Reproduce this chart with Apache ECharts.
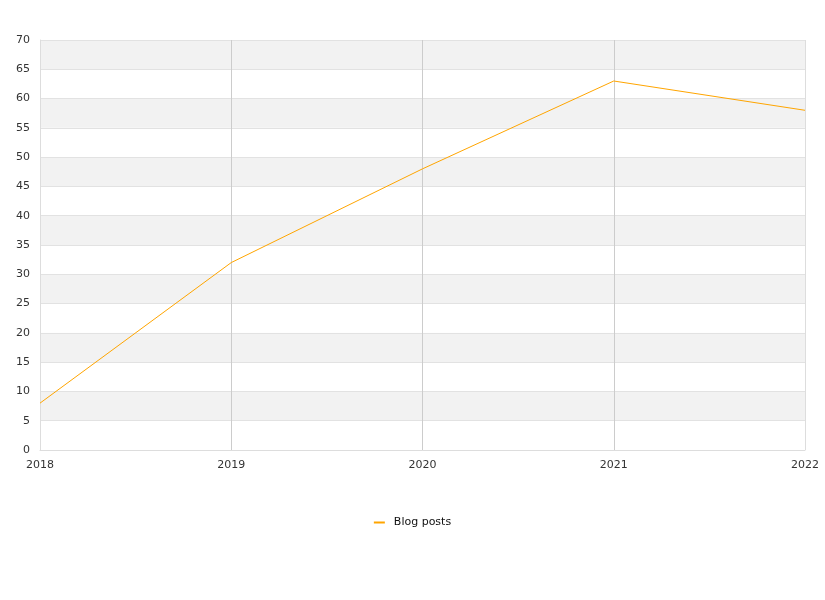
<!DOCTYPE html>
<html>
<head>
<meta charset="utf-8">
<script src="https://cdn.jsdelivr.net/npm/echarts@6/dist/echarts.min.js"></script>
<style>
  html, body { margin: 0; padding: 0; background: #fff; }
  #chart { width: 825px; height: 600px; }
</style>
</head>
<body>
<div id="chart"></div>
<script>
// Yearly blog post counts
const years = ['2018', '2019', '2020', '2021', '2022'];
const blogPosts = [8, 32, 48, 63, 58];
const seriesName = 'Blog posts';

const chart = echarts.init(document.getElementById('chart'), null, { renderer: 'canvas' });
const font = 'DejaVu Sans, sans-serif';

chart.setOption({
  animation: false,
  backgroundColor: '#ffffff',
  grid: { left: 40, right: 20, top: 40, bottom: 150, containLabel: false },
  legend: {
    bottom: 67,
    left: 'center',
    itemWidth: 11,
    itemHeight: 2,
    icon: 'rect',
    textStyle: { fontFamily: font, fontSize: 11, color: '#111', padding: [0, 0, 0, 4] },
    data: [seriesName]
  },
  xAxis: {
    type: 'category',
    data: years,
    boundaryGap: false,
    axisLine: { show: true, lineStyle: { color: '#dddddd', width: 1 } },
    axisTick: { show: false },
    axisLabel: { fontFamily: font, fontSize: 11, color: '#333', margin: 10 },
    splitLine: {
      show: true,
      lineStyle: { color: ['#dddddd', '#cccccc', '#cccccc', '#cccccc', '#dddddd'], width: 1 }
    }
  },
  yAxis: {
    type: 'value',
    min: 0,
    max: 70,
    interval: 5,
    axisLine: { show: true, lineStyle: { color: '#dddddd', width: 1 } },
    axisTick: { show: false },
    axisLabel: { fontFamily: font, fontSize: 11, color: '#333', margin: 10, padding: [2, 0, 0, 0] },
    splitLine: { show: true, lineStyle: { color: '#e2e2e2', width: 1 } },
    splitArea: { show: true, areaStyle: { color: ['#ffffff', '#f2f2f2'] } }
  },
  series: [{
    name: seriesName,
    type: 'line',
    data: blogPosts,
    symbol: 'none',
    showSymbol: false,
    lineStyle: { color: '#ffa500', width: 1 },
    itemStyle: { color: '#ffa500' }
  }]
});
</script>
</body>
</html>
